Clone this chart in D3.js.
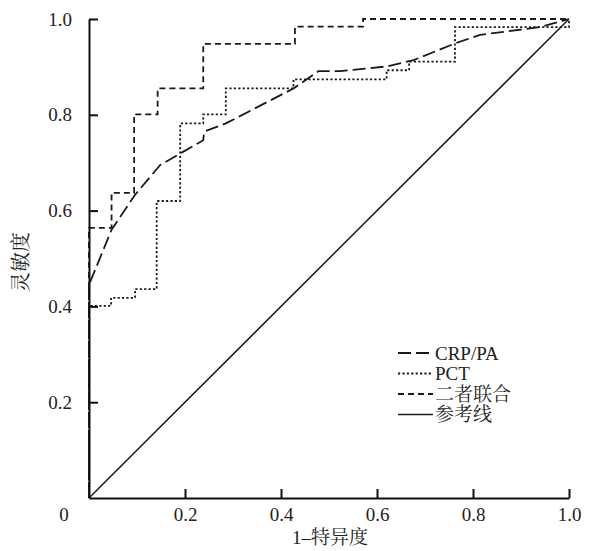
<!DOCTYPE html>
<html>
<head>
<meta charset="utf-8">
<script src="https://cdn.jsdelivr.net/npm/d3@7"></script>
<style>
  body { margin: 0; background: #fff; }
  svg text { fill: #222; }
</style>
</head>
<body>
<svg id="chart" width="589" height="551"></svg>
<script>
// ROC data (x = 1-specificity, y = sensitivity)
var crpX = [0, 0, 0.047, 0.096, 0.148, 0.193, 0.238, 0.240, 0.285, 0.426, 0.478, 0.523, 0.62, 0.676, 0.7625, 0.815, 0.94, 1];
var crpY = [0, 0.445, 0.56, 0.633, 0.695, 0.721, 0.747, 0.765, 0.782, 0.855, 0.891, 0.891, 0.901, 0.914, 0.949, 0.967, 0.983, 1];

var pctX = [0, 0, 0.046, 0.096, 0.141, 0.19, 0.238, 0.285, 0.426, 0.62, 0.667, 0.7625, 1, 1];
var pctY = [0, 0.401, 0.418, 0.436, 0.62, 0.782, 0.801, 0.855, 0.874, 0.893, 0.911, 0.983, 0.983, 1];

var combX = [0, 0, 0.047, 0.094, 0.143, 0.238, 0.429, 0.571, 1];
var combY = [0, 0.564, 0.637, 0.801, 0.855, 0.948, 0.984, 1, 1];

var refX = [0, 1];
var refY = [0, 1];

var xTicks = [0.2, 0.4, 0.6, 0.8, 1.0];
var yTicks = [0.2, 0.4, 0.6, 0.8, 1.0];
var originLabel = '0';
var xTitle = '1–特异度';
var yTitle = '灵敏度';
var legendNames = ['CRP/PA', 'PCT', '二者联合', '参考线'];

var svg = d3.select('#chart');
var numFont = '"Liberation Serif", "Times New Roman", serif';
var cjkFont = '"Liberation Serif", "Noto Serif CJK SC", "Noto Sans CJK SC", serif';

var x = d3.scaleLinear().domain([0, 1]).range([89, 569]);
var y = d3.scaleLinear().domain([0, 1]).range([498, 19]);

function zip(xs, ys) {
    return xs.map(function (v, i) { return [v, ys[i]]; });
}

var series = [
    { name: legendNames[0], pts: zip(crpX, crpY), curve: d3.curveLinear, dash: '13,5', width: 1.8 },
    { name: legendNames[1], pts: zip(pctX, pctY), curve: d3.curveStepAfter, dash: '2.2,2.2', width: 1.8 },
    { name: legendNames[2], pts: zip(combX, combY), curve: d3.curveStepAfter, dash: '6,4', width: 1.8 },
    { name: legendNames[3], pts: zip(refX, refY), curve: d3.curveLinear, dash: null, width: 1.5 }
];

// curves
series.forEach(function (s) {
    var line = d3.line()
        .x(function (d) { return x(d[0]); })
        .y(function (d) { return y(d[1]); })
        .curve(s.curve);
    svg.append('path')
        .attr('d', line(s.pts))
        .attr('fill', 'none')
        .attr('stroke', '#1a1a1a')
        .attr('stroke-width', s.width)
        .attr('stroke-dasharray', s.dash);
});

// axes, ticks pointing inwards
var xAxis = svg.append('g')
    .attr('transform', 'translate(0,' + y(0) + ')')
    .call(d3.axisBottom(x).tickValues(xTicks).tickFormat(d3.format('.1f'))
        .tickSizeInner(-9).tickSizeOuter(0).tickPadding(10));

var yAxis = svg.append('g')
    .attr('transform', 'translate(' + x(0) + ',0)')
    .call(d3.axisLeft(y).tickValues(yTicks).tickFormat(d3.format('.1f'))
        .tickSizeInner(-9).tickSizeOuter(0).tickPadding(17));

[xAxis, yAxis].forEach(function (g) {
    g.select('.domain').attr('stroke', '#111').attr('stroke-width', 2);
    g.selectAll('.tick line').attr('stroke', '#111').attr('stroke-width', 2);
    g.selectAll('.tick text')
        .attr('fill', '#222')
        .style('font-family', numFont)
        .style('font-size', '19px');
});

svg.append('text')
    .attr('x', 64)
    .attr('y', 521)
    .attr('text-anchor', 'middle')
    .style('font-family', numFont)
    .style('font-size', '19px')
    .text(originLabel);

// axis titles
svg.append('text')
    .attr('x', 330)
    .attr('y', 544)
    .attr('text-anchor', 'middle')
    .style('font-family', cjkFont)
    .style('font-size', '19px')
    .text(xTitle);

svg.append('text')
    .attr('transform', 'translate(28,262) rotate(-90)')
    .attr('text-anchor', 'middle')
    .style('font-family', cjkFont)
    .style('font-size', '20px')
    .text(yTitle);

// legend
var legend = svg.append('g').attr('transform', 'translate(398,353)');
var rows = legend.selectAll('g')
    .data(series)
    .enter().append('g')
    .attr('transform', function (d, i) { return 'translate(0,' + (i * 20.5) + ')'; });

rows.append('line')
    .attr('x1', 0).attr('x2', 35)
    .attr('y1', 0).attr('y2', 0)
    .attr('stroke', '#1a1a1a')
    .attr('stroke-width', function (d) { return d.width; })
    .attr('stroke-dasharray', function (d) { return d.dash; });

rows.append('text')
    .attr('x', 37)
    .attr('y', 6.5)
    .style('font-family', cjkFont)
    .style('font-size', '19px')
    .text(function (d) { return d.name; });
</script>
</body>
</html>
